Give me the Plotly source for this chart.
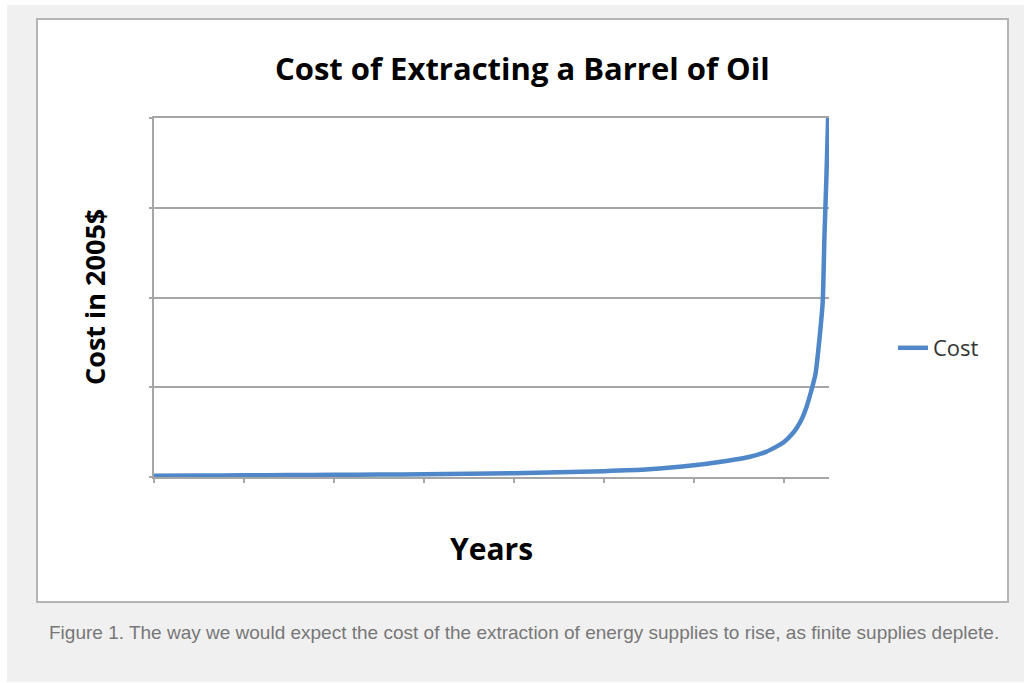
import plotly.graph_objects as go

# ---- data ----
years = [0, 0.5, 1.0, 1.5, 2.0, 2.5, 3.0, 3.5, 4.0, 4.5, 5.0, 5.5, 6.0, 6.3, 6.6,
         6.8, 6.9, 7.0, 7.1, 7.15, 7.2, 7.25, 7.3, 7.35, 7.4, 7.43, 7.45, 7.47, 7.49]
cost = [0.015, 0.017, 0.019, 0.021, 0.024, 0.027, 0.031, 0.036, 0.043, 0.052, 0.064,
        0.085, 0.13, 0.17, 0.22, 0.28, 0.33, 0.39, 0.49, 0.56, 0.65, 0.78, 0.95, 1.15,
        1.6, 1.95, 2.7, 3.3, 4.0]
x_ticks = [0, 1, 2, 3, 4, 5, 6, 7]
y_ticks = [0, 1, 2, 3, 4]

title_text = "Cost of Extracting a Barrel of Oil"
x_title = "Years"
y_title = "Cost in 2005$"
series_name = "Cost"
caption = ("Figure 1. The way we would expect the cost of the extraction of energy "
           "supplies to rise, as finite supplies deplete.")

# ---- layout geometry (pixels) ----
W, H = 1024, 683
L, R, T, B = 154, 829, 118, 477


def px(x):
    return (x - L) / (R - L)


def py(y):
    return (B - y) / (B - T)


fig = go.Figure()
fig.add_trace(go.Scatter(x=years, y=cost, mode="lines", name=series_name,
                         line=dict(color="#4f87c8", width=4.5, shape="spline",
                                   smoothing=0.6)))

grid = "#a6a6a6"
fig.update_layout(
    width=W, height=H,
    margin=dict(l=L, r=W - R, t=T, b=H - B, pad=0),
    paper_bgcolor="white", plot_bgcolor="white",
    showlegend=True,
    legend=dict(x=px(893), y=py(348), xanchor="left", yanchor="middle",
                bgcolor="rgba(0,0,0,0)",
                font=dict(family="Open Sans", size=22, color="#333333")),
    xaxis=dict(range=[0, 7.5], tickvals=x_ticks, showticklabels=False, ticks="outside",
               ticklen=4, tickcolor=grid, tickwidth=1.5, showline=True, mirror=True,
               linecolor=grid, linewidth=1.5, showgrid=False, zeroline=False,
               fixedrange=True),
    yaxis=dict(range=[0, 4], tickvals=y_ticks, showticklabels=False, ticks="outside",
               ticklen=3, tickcolor=grid, tickwidth=1.5, showline=True, linecolor=grid,
               linewidth=1.5, showgrid=True, gridcolor=grid, gridwidth=1.5,
               zeroline=False, fixedrange=True),
    shapes=[
        dict(type="rect", xref="paper", yref="paper", layer="below",
             x0=px(7), x1=px(1024), y0=py(682), y1=py(5),
             fillcolor="#f0f0f0", line=dict(width=0)),
        dict(type="rect", xref="paper", yref="paper", layer="below",
             x0=px(37), x1=px(1008), y0=py(602), y1=py(19),
             fillcolor="white", line=dict(color="#b5b5b5", width=2)),
    ],
    annotations=[
        dict(text="<b>%s</b>" % title_text, xref="paper", yref="paper",
             x=px(522), y=py(68), xanchor="center", yanchor="middle", showarrow=False,
             font=dict(family="Open Sans", size=31, color="black")),
        dict(text="<b>%s</b>" % x_title, xref="paper", yref="paper",
             x=px(491), y=py(548), xanchor="center", yanchor="middle", showarrow=False,
             font=dict(family="Open Sans", size=30, color="black")),
        dict(text="<b>%s</b>" % y_title, xref="paper", yref="paper",
             x=px(94), y=py(297), xanchor="center", yanchor="middle", showarrow=False,
             textangle=-90, font=dict(family="Open Sans", size=27, color="black")),
        dict(text=caption, xref="paper", yref="paper",
             x=px(47), y=py(632), xanchor="left", yanchor="middle", showarrow=False,
             font=dict(family="Liberation Sans", size=19, color="#777777")),
    ],
)

fig.write_html("out.html", config={"displayModeBar": False},
               post_script="document.body.style.margin='0';")
